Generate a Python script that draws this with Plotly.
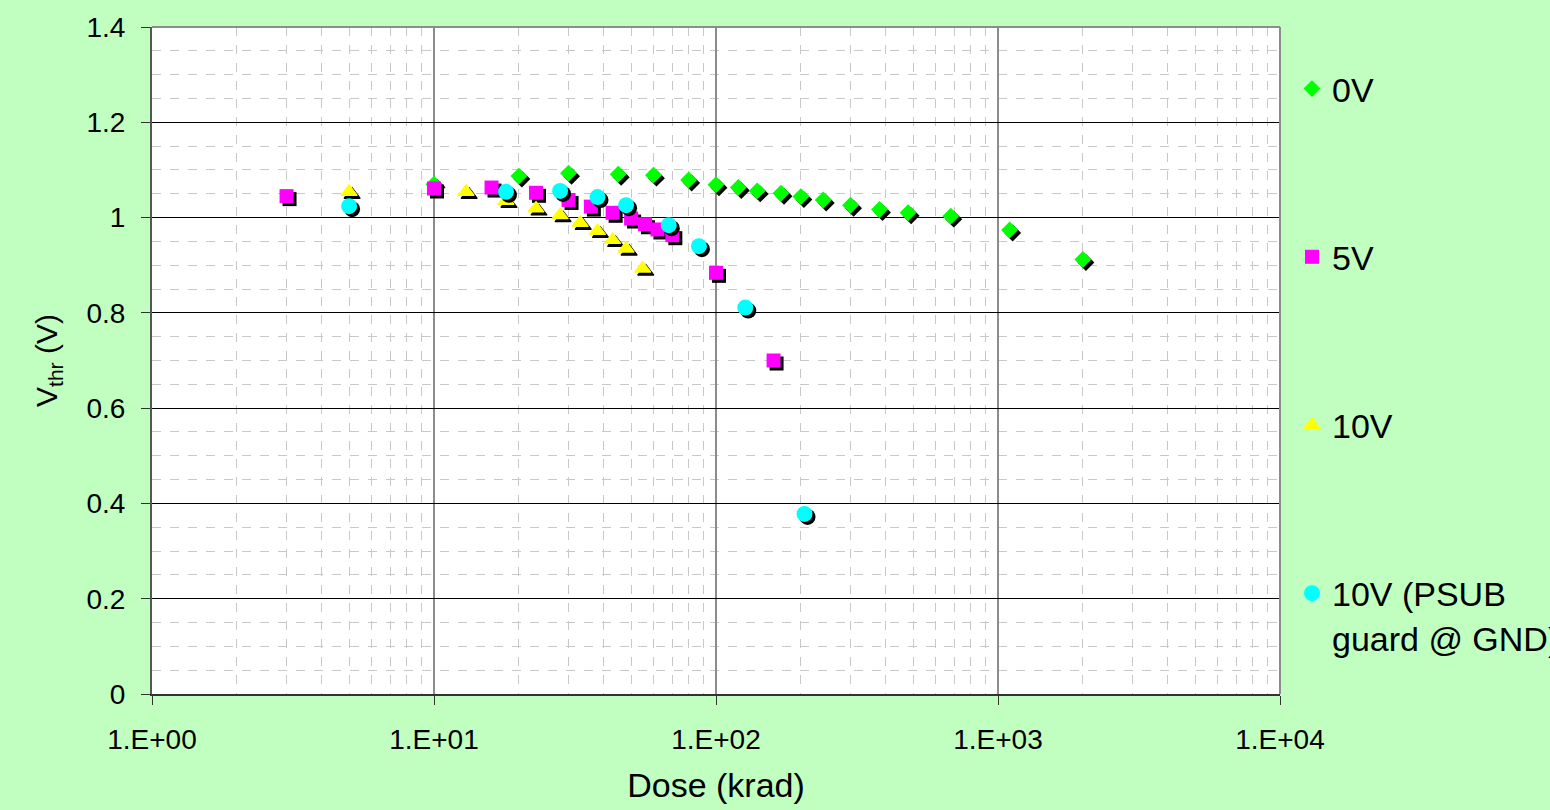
import plotly.graph_objects as go

# ---- data ----
dose_0v = [10, 20, 30, 45, 60, 80, 100, 120, 140, 170, 200, 240, 300, 380, 480, 680, 1100, 2000]
vthr_0v = [1.070, 1.087, 1.093, 1.091, 1.089, 1.079, 1.069, 1.063, 1.056, 1.051, 1.044, 1.037,
           1.026, 1.017, 1.010, 1.003, 0.974, 0.912]

dose_5v = [3, 10, 16, 23, 30, 36, 43, 50, 56, 62, 70, 100, 160]
vthr_5v = [1.045, 1.061, 1.063, 1.052, 1.037, 1.023, 1.010, 0.998, 0.986, 0.975, 0.963, 0.884, 0.700]

dose_10v = [5, 13, 18, 23, 28, 33, 38, 43, 48, 55]
vthr_10v = [1.054, 1.054, 1.035, 1.019, 1.005, 0.989, 0.972, 0.953, 0.935, 0.893]

dose_10vg = [5, 18, 28, 38, 48, 68, 87, 127, 206]
vthr_10vg = [1.024, 1.054, 1.056, 1.043, 1.026, 0.984, 0.940, 0.811, 0.378]

series_names = ["0V", "5V", "10V", "10V (PSUB<br>guard @ GND)"]
series_colors = ["#00FF00", "#FF00FF", "#FFFF00", "#00FFFF"]
series_symbols = ["diamond", "square", "triangle-up", "circle"]
series_sizes = [13, 14, 14, 16]
series_outline = [0, 0, 1.2, 0]

x_tickvals = [1, 10, 100, 1000, 10000]
x_ticktext = ["1.E+00", "1.E+01", "1.E+02", "1.E+03", "1.E+04"]

# ---- layout geometry ----
W, H = 1550, 810
ML, MR, MT, MB = 152, 270, 27, 116
plot_w = W - ML - MR
plot_h = H - MT - MB
X_DECADES = 4.0
Y_SPAN = 1.4
SHADOW_PX = 3
px_per_decade = plot_w / X_DECADES
px_per_unit_y = plot_h / Y_SPAN
shadow_xfac = 10 ** (SHADOW_PX / px_per_decade)
shadow_dy = SHADOW_PX / px_per_unit_y

FONT = "Liberation Sans, Arial, sans-serif"

fig = go.Figure()
all_data = [(dose_0v, vthr_0v), (dose_5v, vthr_5v), (dose_10v, vthr_10v), (dose_10vg, vthr_10vg)]
for i, (xs, ys) in enumerate(all_data):
    # drop shadow
    fig.add_trace(go.Scatter(
        x=[v * shadow_xfac for v in xs], y=[v - shadow_dy for v in ys],
        mode="markers", showlegend=False, hoverinfo="skip",
        legendgroup=f"g{i}",
        marker=dict(symbol=series_symbols[i], size=series_sizes[i], color="black",
                    line=dict(width=series_outline[i], color="black")),
    ))
    fig.add_trace(go.Scatter(
        x=xs, y=ys, mode="markers", name=series_names[i],
        legendgroup=f"g{i}",
        marker=dict(symbol=series_symbols[i], size=series_sizes[i], color=series_colors[i],
                    line=dict(width=series_outline[i], color=series_colors[i])),
    ))

fig.update_layout(
    width=W, height=H,
    margin=dict(l=ML, r=MR, t=MT, b=MB, autoexpand=False),
    paper_bgcolor="#C0FFC0",
    plot_bgcolor="white",
    font=dict(family=FONT, color="black", size=28),
    legend=dict(
        x=(1292 - ML) / plot_w, xanchor="left",
        y=(H - MB - 60) / plot_h, yanchor="top",
        font=dict(size=34, family=FONT),
        tracegroupgap=121, valign="top",
        bgcolor="rgba(0,0,0,0)", borderwidth=0,
    ),
    showlegend=True,
)

fig.update_xaxes(
    type="log", range=[0, X_DECADES],
    tickvals=x_tickvals, ticktext=x_ticktext,
    ticks="outside", ticklen=9, tickwidth=1, tickcolor="#333333",
    ticklabelstandoff=10,
    showgrid=True, gridcolor="#8C8C8C", gridwidth=2,
    minor=dict(dtick="D1", showgrid=True, gridcolor="#C8C8C8", gridwidth=1, griddash="dash", ticks=""),
    showline=True, linecolor="#333333", linewidth=2,
    zeroline=False,
    title=dict(text="Dose (krad)", font=dict(size=34, family=FONT), standoff=20),
    tickfont=dict(size=28, family=FONT),
)
fig.update_yaxes(
    range=[0, Y_SPAN], dtick=0.2, tick0=0,
    ticks="outside", ticklen=9, tickwidth=1, tickcolor="#333333",
    ticklabelstandoff=10,
    showgrid=True, gridcolor="#000000", gridwidth=1,
    minor=dict(dtick=0.05, showgrid=True, gridcolor="#C8C8C8", gridwidth=1, griddash="dash", ticks=""),
    showline=True, linecolor="#555555", linewidth=2,
    zeroline=False,
    title=dict(text="V<sub>thr</sub> (V)", font=dict(size=30, family=FONT), standoff=20),
    tickfont=dict(size=28, family=FONT),
)

# plot-area border (top and right)
fig.add_shape(type="line", xref="paper", yref="paper", x0=0, x1=1, y0=1, y1=1,
              line=dict(color="#8C8C8C", width=2))
fig.add_shape(type="line", xref="paper", yref="paper", x0=1, x1=1, y0=0, y1=1,
              line=dict(color="#8C8C8C", width=2))

fig.write_html("out.html",
               config={"displayModeBar": False},
               post_script="document.body.style.margin='0px';document.body.style.overflow='hidden';")
